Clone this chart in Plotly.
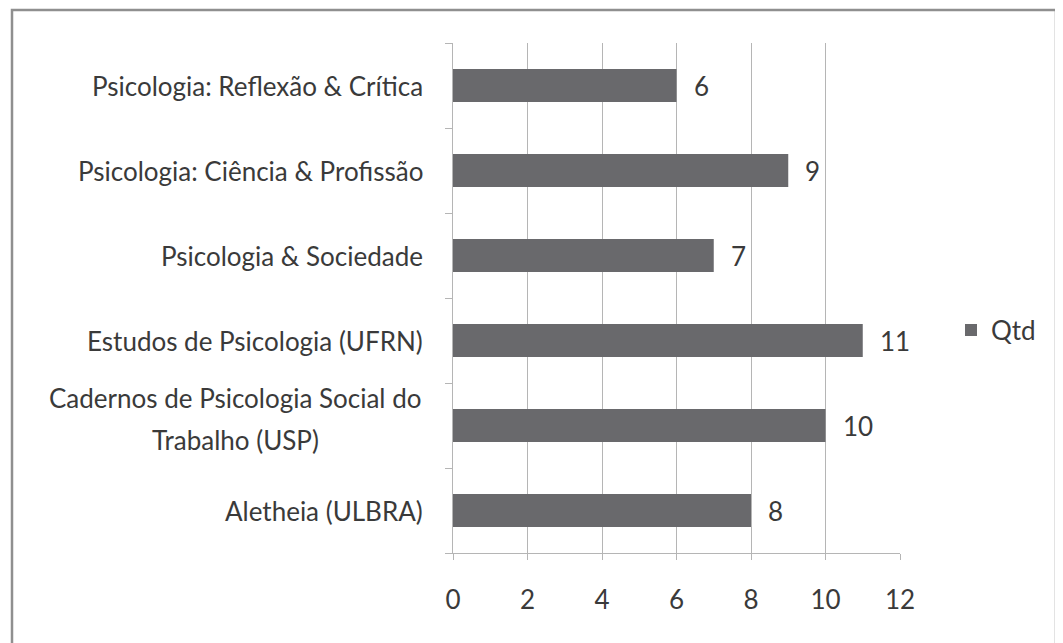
import plotly.graph_objects as go

categories = [
    "Aletheia (ULBRA)",
    "Cadernos de Psicologia Social do<br>Trabalho (USP)",
    "Estudos de Psicologia (UFRN)",
    "Psicologia & Sociedade",
    "Psicologia: Ciência & Profissão",
    "Psicologia: Reflexão & Crítica",
]
values = [8, 10, 11, 7, 9, 6]
series_name = "Qtd"
x_ticks = [0, 2, 4, 6, 8, 10, 12]

FONT = "Lato"
FS = 26
TXT = "#3a3a3a"
GRID = "#b5b5b5"
BAR = "#69696c"

# figure coordinates (page has an 8px body margin)
L, T, R, B = 445, 35, 892, 545
W, H = 1055, 635

def px_x(p):
    return (p - 8 - L) / (R - L)

def px_y(p):
    return (B - (p - 8)) / (B - T)

fig = go.Figure()
fig.add_trace(go.Bar(
    y=categories, x=values, orientation="h", name=series_name,
    marker=dict(color=BAR, line=dict(width=0)), width=0.39,
))

annotations = []
for c, v in zip(categories, values):
    annotations.append(dict(x=v, y=c, xref="x", yref="y", text=str(v),
                            showarrow=False, xanchor="left", xshift=15,
                            font=dict(family=FONT, size=FS, color=TXT)))
    lines = c.split("<br>")
    n = len(lines)
    for i, ln in enumerate(lines):
        annotations.append(dict(x=px_x(425) if n == 1 else px_x(235),
                                y=c, xref="paper", yref="y",
                                text=ln, showarrow=False,
                                xanchor="right" if n == 1 else "center",
                                yshift=((n - 1) / 2 - i) * 42 + (7 if n > 1 else 0),
                                font=dict(family=FONT, size=FS, color=TXT)))

fig.update_layout(
    width=W, height=H,
    margin=dict(l=L, r=W - R, t=T, b=H - B),
    paper_bgcolor="white", plot_bgcolor="white",
    font=dict(family=FONT, size=FS, color=TXT),
    showlegend=True,
    legend=dict(x=px_x(951), y=px_y(330), xanchor="left", yanchor="middle",
                font=dict(family=FONT, size=FS, color=TXT),
                itemwidth=30, bgcolor="rgba(0,0,0,0)"),
    annotations=annotations,
    shapes=[dict(type="rect", xref="paper", yref="paper",
                 x0=px_x(12), x1=px_x(1056),
                 y0=px_y(670), y1=px_y(10),
                 line=dict(color="#8f8f8f", width=2.5), layer="below")],
)
fig.update_xaxes(
    range=[0, 12], tickvals=x_ticks, showgrid=True, gridcolor=GRID, gridwidth=1,
    showline=True, linecolor=GRID, linewidth=1, ticks="outside", ticklen=6,
    tickcolor=GRID, zeroline=False, ticklabelstandoff=18,
    tickfont=dict(family=FONT, size=FS, color=TXT),
)
fig.update_yaxes(
    categoryorder="array", categoryarray=categories, tickson="boundaries",
    showticklabels=False, showline=True, linecolor=GRID, linewidth=1,
    ticks="outside", ticklen=7, tickcolor=GRID, showgrid=False, zeroline=False,
)

fig.write_html("out.html")
